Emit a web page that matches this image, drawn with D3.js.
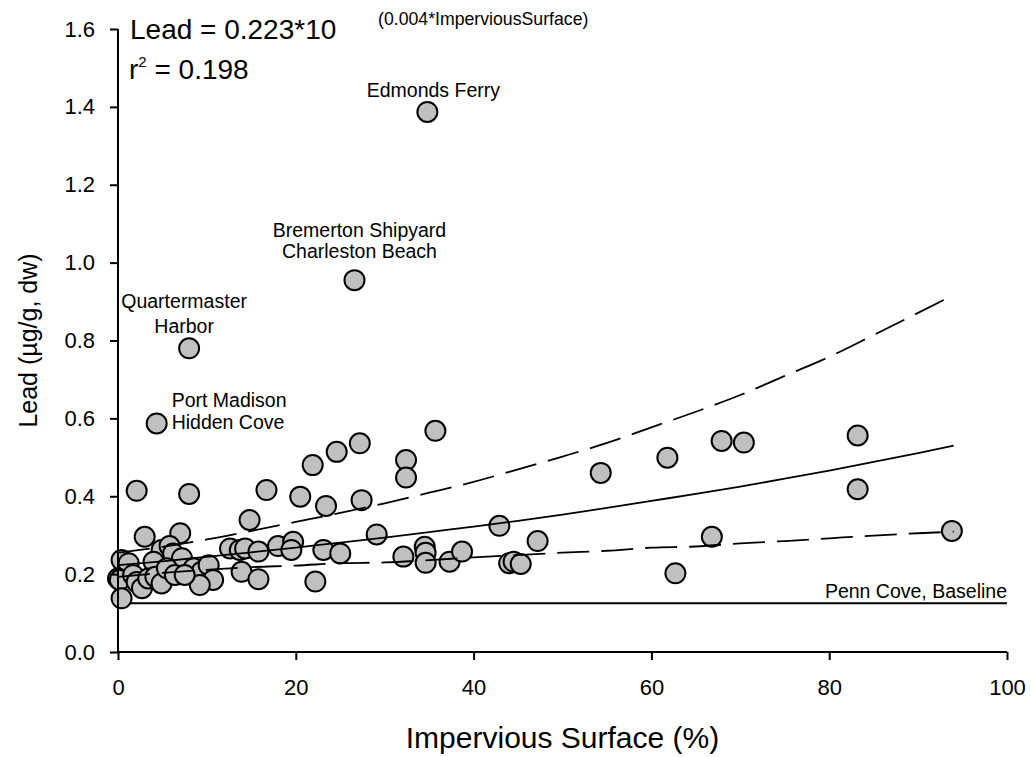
<!DOCTYPE html>
<html>
  <head>
    <title>Lead vs impervious surface</title>
    <style>
      body { margin: 0; background: #fff; }
      svg { font-family: "Liberation Sans", Arial, sans-serif; }
    </style>
  </head>
  <body>
    <script src="https://cdnjs.cloudflare.com/ajax/libs/d3/7.8.5/d3.min.js"></script>
    <script>
      // sites: impervious surface (%) and lead (ug/g dw)
      const impervious = [34.8, 26.6, 8.0, 4.35, 2.1, 8.0, 16.7, 14.8, 3.0, 7.0,
        12.6, 0.4, 1.2, 4.9, 5.8, 6.2, 7.2, 4.0, 0.0, 0.2,
        1.7, 2.1, 2.7, 3.4, 4.2, 4.9, 5.5, 6.4, 8.5, 9.4,
        10.2, 10.7, 9.2, 0.4, 7.5, 21.9, 24.6, 27.2, 20.5, 23.4,
        27.4, 13.7, 14.3, 15.8, 18.0, 19.7, 19.5, 23.1, 25.0, 13.9,
        15.8, 22.2, 35.7, 32.4, 32.4, 29.1, 42.9, 32.1, 34.5, 34.6,
        34.6, 37.3, 38.7, 44.0, 44.5, 45.3, 47.2, 54.3, 61.8, 62.7,
        66.8, 67.9, 70.4, 83.2, 83.2, 93.8];
      const lead = [1.387, 0.955, 0.780, 0.587, 0.414, 0.406, 0.416, 0.339, 0.296, 0.305,
        0.266, 0.236, 0.228, 0.262, 0.272, 0.253, 0.241, 0.232, 0.189, 0.185,
        0.198, 0.180, 0.164, 0.189, 0.193, 0.176, 0.215, 0.198, 0.215, 0.206,
        0.223, 0.185, 0.172, 0.138, 0.198, 0.480, 0.514, 0.536, 0.399, 0.375,
        0.390, 0.262, 0.266, 0.258, 0.272, 0.283, 0.262, 0.262, 0.253, 0.206,
        0.187, 0.181, 0.568, 0.493, 0.448, 0.302, 0.324, 0.245, 0.270, 0.255,
        0.229, 0.232, 0.258, 0.228, 0.232, 0.226, 0.285, 0.460, 0.499, 0.202,
        0.296, 0.542, 0.538, 0.556, 0.418, 0.311];

      // regression curve and 95% band
      const curveX = [0, 5, 10, 15, 20, 25, 30, 35, 40, 45, 50, 55, 60, 65, 70, 75, 80, 85, 90, 94];
      const fitY = [0.223, 0.233, 0.2445, 0.256, 0.268, 0.281, 0.294, 0.308, 0.322, 0.337,
        0.353, 0.370, 0.388, 0.406, 0.425, 0.445, 0.466, 0.488, 0.511, 0.530];
      const upperY = [0.255, 0.270, 0.289, 0.311, 0.334, 0.357, 0.382, 0.409, 0.437, 0.469,
        0.502, 0.537, 0.577, 0.617, 0.660, 0.709, 0.758, 0.814, 0.871, 0.917];
      const lowerY = [0.193, 0.203, 0.211, 0.218, 0.222, 0.228, 0.230, 0.236, 0.243, 0.249,
        0.255, 0.260, 0.268, 0.271, 0.279, 0.285, 0.292, 0.299, 0.305, 0.309];
      const baseline = 0.125;

      const xTicks = [0, 20, 40, 60, 80, 100];
      const yTicks = [0, 0.2, 0.4, 0.6, 0.8, 1.0, 1.2, 1.4, 1.6];

      const labels = [
        {lines: ["Edmonds Ferry"], x: 34.8, y: 1.387, anchor: "middle", dx: 6, dy: -15, gap: 21},
        {lines: ["Bremerton Shipyard", "Charleston Beach"], x: 26.6, y: 0.955, anchor: "middle", dx: 5, dy: -43, gap: 21},
        {lines: ["Quartermaster", "Harbor"], x: 8.0, y: 0.780, anchor: "middle", dx: -5, dy: -40, gap: 25},
        {lines: ["Port Madison", "Hidden Cove"], x: 4.35, y: 0.587, anchor: "start", dx: 15, dy: -16, gap: 22}
      ];

      const width = 1031, height = 757;
      const x = d3.scaleLinear().domain([0, 100]).range([118, 1007]);
      const y = d3.scaleLinear().domain([0, 1.6]).range([652, 29]);

      const svg = d3.select("body").append("svg")
        .attr("width", width).attr("height", height);

      // baseline
      svg.append("line")
        .attr("x1", x(0)).attr("x2", x(100))
        .attr("y1", y(baseline)).attr("y2", y(baseline))
        .attr("stroke", "#000").attr("stroke-width", 2);
      svg.append("text")
        .attr("x", x(100)).attr("y", y(baseline) - 5)
        .attr("text-anchor", "end").attr("font-size", 19.5)
        .text("Penn Cove, Baseline");

      // points
      const pts = impervious.map((v, i) => ({x: v, y: lead[i]}));
      svg.selectAll("circle.pt")
        .data(pts)
        .enter()
        .append("circle")
        .attr("class", "pt")
        .attr("cx", d => x(d.x))
        .attr("cy", d => y(d.y))
        .attr("r", 10)
        .attr("fill", "#c0c0c0")
        .attr("stroke", "#000")
        .attr("stroke-width", 2);

      // fit and band
      const line = d3.line()
        .x(d => x(d[0])).y(d => y(d[1]))
        .curve(d3.curveMonotoneX);
      const series = [
        {vals: fitY, dash: null},
        {vals: upperY, dash: "32,12"},
        {vals: lowerY, dash: "32,12"}
      ];
      series.forEach(s => {
        svg.append("path")
          .datum(curveX.map((v, i) => [v, s.vals[i]]))
          .attr("d", line)
          .attr("fill", "none")
          .attr("stroke", "#000")
          .attr("stroke-width", 1.8)
          .attr("stroke-dasharray", s.dash);
      });

      // axes
      const xAxis = svg.append("g")
        .attr("transform", `translate(0,${y(0)})`)
        .call(d3.axisBottom(x).tickValues(xTicks).tickSize(8).tickPadding(19).tickFormat(d3.format("d")));
      const yAxis = svg.append("g")
        .attr("transform", `translate(${x(0)},0)`)
        .call(d3.axisLeft(y).tickValues(yTicks).tickSize(8).tickPadding(15).tickFormat(d3.format(".1f")));
      [xAxis, yAxis].forEach(g => {
        g.select(".domain").attr("stroke-width", 2).attr("d",
          g === xAxis ? `M${x(0)},0H${x(100)}` : `M0,${y(1.6)}V${y(0)}`);
        g.selectAll(".tick line").attr("stroke-width", 2);
        g.selectAll(".tick text").attr("font-size", 22)
          .attr("font-family", "Liberation Sans, Arial, sans-serif").attr("fill", "#000");
      });

      svg.append("text")
        .attr("x", (x(0) + x(100)) / 2).attr("y", 748)
        .attr("text-anchor", "middle").attr("font-size", 30)
        .text("Impervious Surface (%)");
      svg.append("text")
        .attr("transform", `translate(37,${y(0.8)}) rotate(-90)`)
        .attr("text-anchor", "middle").attr("font-size", 25)
        .text("Lead (µg/g, dw)");

      // equation
      svg.append("text").attr("x", 130).attr("y", 39).attr("font-size", 28)
        .text("Lead = 0.223*10");
      svg.append("text").attr("x", 378).attr("y", 25).attr("font-size", 17.7)
        .text("(0.004*ImperviousSurface)");
      const r2 = svg.append("text").attr("x", 129).attr("y", 79).attr("font-size", 28);
      r2.append("tspan").text("r");
      r2.append("tspan").attr("font-size", 15).attr("dy", -12).text("2");
      r2.append("tspan").attr("dy", 12).text(" = 0.198");

      // site labels
      labels.forEach(l => {
        const t = svg.append("text")
          .attr("text-anchor", l.anchor).attr("font-size", 19.5);
        l.lines.forEach((s, i) => {
          t.append("tspan")
            .attr("x", x(l.x) + l.dx)
            .attr("y", y(l.y) + l.dy + i * l.gap)
            .text(s);
        });
      });
    </script>
  </body>
</html>
